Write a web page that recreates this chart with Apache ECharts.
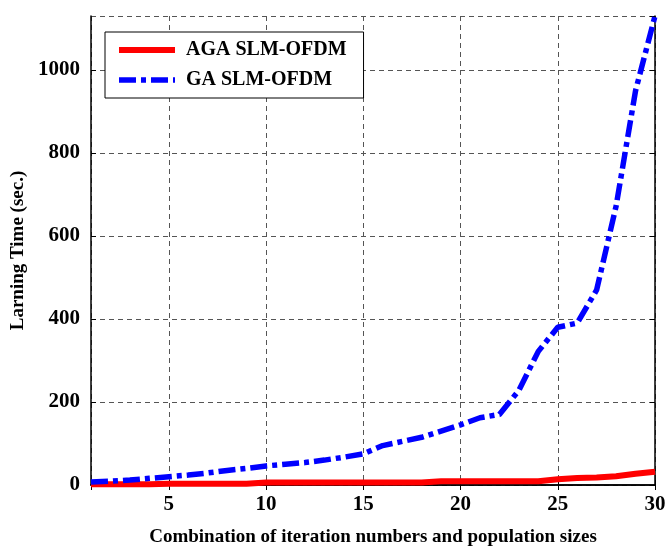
<!DOCTYPE html>
<html>
<head>
<meta charset="utf-8">
<script src="https://cdn.jsdelivr.net/npm/echarts@6/dist/echarts.min.js"></script>
<style>
html,body{margin:0;padding:0;background:#fff;}
#chart{width:666px;height:547px;}
</style>
</head>
<body>
<div id="chart"></div>
<script>
const xValues = [1,2,3,4,5,6,7,8,9,10,11,12,13,14,15,16,17,18,19,20,21,22,23,24,25,26,27,28,29,30];
const agaTime = [2,2,2,2,3,3,3,3,3,6,6,6,6,6,6,6,6,6,9,9,9,9,9,9,14,17,18,21,27,32];
const gaTime = [7,9,12,16,20,24,29,35,40,46,50,54,60,67,75,95,105,115,130,145,162,170,228,322,380,390,470,672,950,1130];
const yTicks = [0,200,400,600,800,1000];
const seriesNames = ['AGA SLM-OFDM','GA SLM-OFDM'];
const xName = 'Combination of iteration numbers and population sizes';
const yName = 'Larning Time (sec.)';

const font = 'Liberation Serif';
const chart = echarts.init(document.getElementById('chart'));
const pair = arr => xValues.map((x,i)=>[x,arr[i]]);

const gridLine = {show:true, lineStyle:{color:'#555', type:[5,4], width:1}};
chart.setOption({
  animation:false,
  backgroundColor:'#fff',
  grid:{left:91, right:11, top:16, bottom:62, containLabel:false, outerBoundsMode:'none'},
  legend:{
    orient:'vertical', left:105, top:32,
    padding:[8,17,8,11], itemWidth:56, itemHeight:20, itemGap:10,
    borderColor:'#000', borderWidth:1, backgroundColor:'#fff',
    data:[
      {name:seriesNames[0], lineStyle:{width:6, color:'#ff0000', type:'solid', cap:'butt'}},
      {name:seriesNames[1], lineStyle:{width:5.5, color:'#0000ff', type:[17,5,5,5], cap:'butt'}}
    ],
    itemStyle:{opacity:0},
    textStyle:{fontFamily:font, fontWeight:'bold', fontSize:20, color:'#000', padding:[0,0,0,6]}
  },
  xAxis:[{
    type:'value', min:1, max:30, splitNumber:5,
    name:xName, nameLocation:'middle', nameGap:43,
    nameTextStyle:{fontFamily:font, fontWeight:'bold', fontSize:19, color:'#000'},
    axisLine:{show:true, lineStyle:{color:'#000', width:1.5}},
    axisTick:{show:true, inside:true, length:5, lineStyle:{color:'#000'}},
    axisLabel:{showMinLabel:false, margin:9, fontFamily:font, fontWeight:'bold', fontSize:21, color:'#000'},
    splitLine:gridLine
  },{
    type:'value', min:1, max:30, splitNumber:5, position:'top',
    axisLine:{show:true, lineStyle:{color:'#000', width:1.5}},
    axisTick:{show:true, inside:true, length:5, lineStyle:{color:'#000'}},
    axisLabel:{show:false}, splitLine:{show:false}
  }],
  yAxis:[{
    type:'value', min:0, max:1130, interval:200,
    name:yName, nameLocation:'middle', nameGap:57, nameRotate:90,
    nameTextStyle:{fontFamily:font, fontWeight:'bold', fontSize:19, color:'#000'},
    axisLine:{show:true, lineStyle:{color:'#000', width:1.5}},
    axisTick:{show:true, inside:true, length:5, lineStyle:{color:'#000'}},
    axisLabel:{showMaxLabel:false, margin:11, fontFamily:font, fontWeight:'bold', fontSize:21, color:'#000',
      formatter:v => yTicks.includes(v) ? String(v) : ''},
    splitLine:gridLine
  },{
    type:'value', min:0, max:1130, interval:200, position:'right',
    axisLine:{show:true, lineStyle:{color:'#000', width:1.5}},
    axisTick:{show:true, inside:true, length:5, lineStyle:{color:'#000'}},
    axisLabel:{show:false}, splitLine:{show:false}
  }],
  series:[{
    name:seriesNames[0], type:'line', data:pair(agaTime), symbol:'none',
    xAxisIndex:0, yAxisIndex:0, z:3,
    itemStyle:{color:'#ff0000'},
    lineStyle:{color:'#ff0000', width:6, cap:'butt'}
  },{
    name:seriesNames[1], type:'line', data:pair(gaTime), symbol:'none',
    xAxisIndex:0, yAxisIndex:0, z:4,
    itemStyle:{color:'#0000ff'},
    lineStyle:{color:'#0000ff', width:5.5, type:[17,5,5,5], cap:'butt'}
  }]
});
</script>
</body>
</html>
